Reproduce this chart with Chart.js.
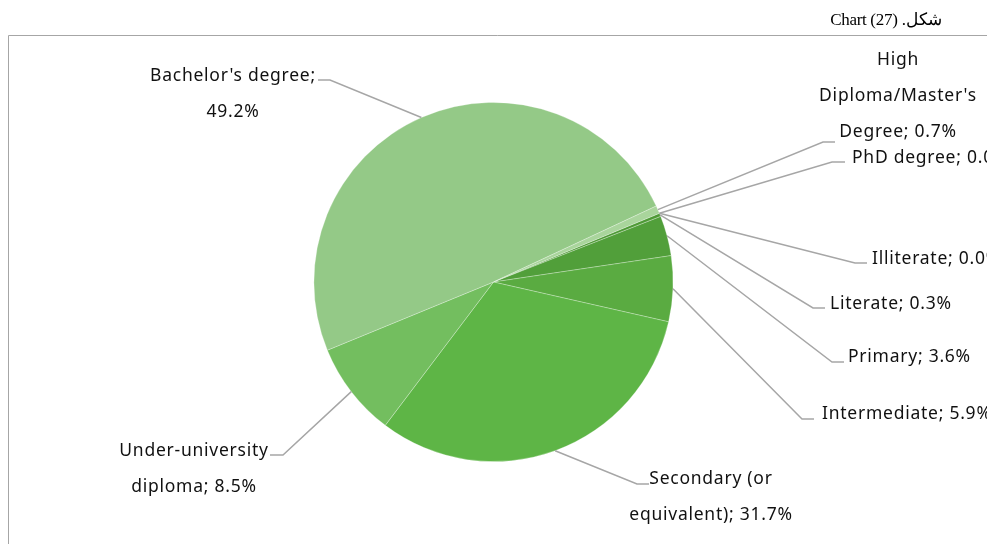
<!DOCTYPE html>
<html>
<head>
<meta charset="utf-8">
<script src="https://cdn.jsdelivr.net/npm/chart.js@4"></script>
<style>
  html, body { margin: 0; padding: 0; background: #ffffff; }
  #wrap { position: relative; width: 987px; height: 544px; overflow: hidden; }
  #title { position: absolute; right: 45px; top: 9px; font-family: "Liberation Serif", "DejaVu Serif", serif; font-size: 17px; color: #000; direction: rtl; white-space: nowrap; letter-spacing: -0.3px; }
  canvas { position: absolute; left: 0; top: 0; }
</style>
</head>
<body>
<div id="wrap">
  <canvas id="c" width="987" height="544"></canvas>
  <div id="title" dir="rtl">شكل. Chart (27)</div>
</div>
<script>
// ---- data ----
const categories = ["Illiterate", "Literate", "Primary", "Intermediate", "Secondary (or equivalent)", "Under-university diploma", "Bachelor's degree", "High Diploma/Master's Degree", "PhD degree"];
const values = [0.0, 0.3, 3.6, 5.9, 31.7, 8.5, 49.2, 0.7, 0.0];
const colors = ["#4f9b37", "#4e9a36", "#519f3a", "#5aab41", "#5eb546", "#73be5f", "#94c987", "#a9d59c", "#b8dcae"];

// ---- label layout (positions only) ----
const labelLayout = [
  { align: "left",   x: 872, y: 263.5, maxW: 9999, elbow: [855, 263], end: 867 },
  { align: "left",   x: 830, y: 309,   maxW: 9999, elbow: [813, 308], end: 825 },
  { align: "left",   x: 848, y: 362,   maxW: 9999, elbow: [832, 362], end: 844 },
  { align: "left",   x: 822, y: 419,   maxW: 9999, elbow: [802, 419], end: 814 },
  { align: "center", x: 711, y: 484,   maxW: 180,  elbow: [637, 484], end: 649 },
  { align: "center", x: 194, y: 456,   maxW: 155,  elbow: [283, 455], end: 270 },
  { align: "center", x: 233, y: 81,    maxW: 175,  elbow: [330, 80],  end: 318 },
  { align: "center", x: 898, y: 65,    maxW: 160,  elbow: [823, 142], end: 835 },
  { align: "left",   x: 852, y: 163,   maxW: 9999, elbow: [832, 162], end: 845 }
];
const LINE_H = 36;
const FONT = '17.5px "Noto Sans", "Open Sans", sans-serif';
const LETTER_SP = "0.75px";

function wrapText(ctx, text, maxW) {
  const words = text.split(" ");
  const lines = [];
  let cur = "";
  for (const w of words) {
    const test = cur ? cur + " " + w : w;
    if (cur && ctx.measureText(test).width > maxW) { lines.push(cur); cur = w; }
    else cur = test;
  }
  if (cur) lines.push(cur);
  return lines;
}

const framePlugin = {
  id: "frame",
  beforeDraw(chart) {
    const ctx = chart.ctx;
    ctx.save();
    ctx.strokeStyle = "#a6a6a6";
    ctx.lineWidth = 1;
    ctx.beginPath();
    ctx.moveTo(8.5, 544);
    ctx.lineTo(8.5, 35.5);
    ctx.lineTo(987, 35.5);
    ctx.stroke();
    ctx.restore();
  }
};

const labelPlugin = {
  id: "leaderLabels",
  afterDatasetsDraw(chart) {
    const ctx = chart.ctx;
    const meta = chart.getDatasetMeta(0);
    ctx.save();
    ctx.font = FONT;
    if ("letterSpacing" in ctx) ctx.letterSpacing = LETTER_SP;
    meta.data.forEach((arc, i) => {
      const L = labelLayout[i];
      const p = arc.getProps(["x", "y", "startAngle", "endAngle", "outerRadius"], true);
      const mid = (p.startAngle + p.endAngle) / 2;
      const ax = p.x + Math.cos(mid) * p.outerRadius;
      const ay = p.y + Math.sin(mid) * p.outerRadius;
      ctx.strokeStyle = "#a6a6a6";
      ctx.lineWidth = 1.5;
      ctx.beginPath();
      ctx.moveTo(ax, ay);
      ctx.lineTo(L.elbow[0], L.elbow[1]);
      ctx.lineTo(L.end, L.elbow[1]);
      ctx.stroke();
      const text = categories[i] + "; " + values[i].toFixed(1) + "%";
      const lines = wrapText(ctx, text, L.maxW);
      ctx.fillStyle = "#111111";
      ctx.textAlign = L.align;
      ctx.textBaseline = "alphabetic";
      lines.forEach((ln, k) => ctx.fillText(ln, L.x, L.y + k * LINE_H));
    });
    ctx.restore();
  }
};

new Chart(document.getElementById("c"), {
  type: "pie",
  data: {
    labels: categories,
    datasets: [{
      data: values,
      backgroundColor: colors,
      borderColor: "rgba(255,255,255,0.35)",
      borderWidth: 0.8,
      hoverOffset: 0
    }]
  },
  options: {
    responsive: false,
    devicePixelRatio: 1,
    animation: false,
    rotation: 67.5,
    layout: { padding: { top: 102, bottom: 82, left: 313, right: 313 } },
    plugins: { legend: { display: false }, tooltip: { enabled: false }, title: { display: false } }
  },
  plugins: [framePlugin, labelPlugin]
});
</script>
</body>
</html>
